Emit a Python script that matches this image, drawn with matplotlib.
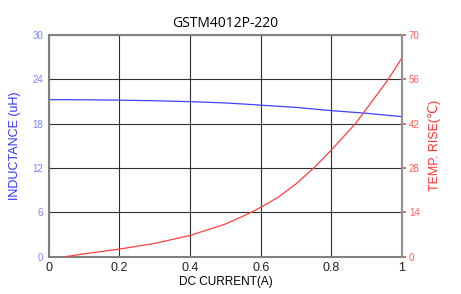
import matplotlib.pyplot as plt

# data
current_l = [0.0, 0.1, 0.2, 0.3, 0.4, 0.5, 0.57, 0.6, 0.7, 0.8, 0.9, 1.0]
inductance = [21.25, 21.23, 21.18, 21.1, 20.98, 20.8, 20.6, 20.5, 20.2, 19.76, 19.4, 18.95]

current_t = [0.047, 0.1, 0.2, 0.3, 0.4, 0.5, 0.573, 0.6, 0.65, 0.7, 0.75,
             0.8, 0.868, 0.9, 0.958, 1.0]
temp_rise = [0.0, 0.9, 2.4, 4.2, 6.7, 10.3, 14.0, 15.6, 18.8, 23.0, 28.0,
             33.7, 42.0, 46.8, 55.5, 62.8]

x_ticks = [0, 0.2, 0.4, 0.6, 0.8, 1]
x_labels = ['0', '0.2', '0.4', '0.6', '0.8', '1']
l_ticks = [0, 6, 12, 18, 24, 30]
t_ticks = [0, 14, 28, 42, 56, 70]

fig = plt.figure(figsize=(4.61, 2.94), dpi=100)
ax = fig.add_axes([0.106, 0.127, 0.766, 0.754])
ax2 = ax.twinx()

ax.plot(current_l, inductance, color='#4040ff', lw=0.9)
ax2.plot(current_t, temp_rise, color='#ff4040', lw=0.9)

ax.set_xlim(0, 1)
ax.set_ylim(0, 30)
ax2.set_ylim(0, 70)
ax.set_xticks(x_ticks, x_labels)
ax.set_yticks(l_ticks)
ax2.set_yticks(t_ticks)
ax.grid(True, color='#303030', lw=0.8)

for s in ['left', 'bottom', 'top']:
    ax.spines[s].set_color('#808080')
    ax.spines[s].set_linewidth(1.5)
for s in ax2.spines:
    ax2.spines[s].set_visible(False)
ax2.spines['right'].set_visible(True)
ax2.spines['right'].set_color('#909090')
ax2.spines['right'].set_linewidth(1.5)
ax.spines['right'].set_visible(False)

ax.tick_params(axis='x', length=0, labelsize=9, pad=4, labelcolor='#202020')
ax.tick_params(axis='y', length=0, labelsize=7, pad=4, labelcolor='#8080ff')
ax2.tick_params(axis='y', length=3, width=1.2, color='#ff4040', labelsize=7,
                pad=2, labelcolor='#ff6060')

for lab in ax.get_xticklabels() + ax.get_yticklabels() + ax2.get_yticklabels():
    lab.set_family('Liberation Sans')

ax.set_xlabel('DC CURRENT(A)', fontsize=8.5, family='Liberation Sans', labelpad=1)
ax.set_ylabel('INDUCTANCE (uH)', fontsize=9, color='#3333ff',
              family='Liberation Sans', labelpad=8)
ax2.set_ylabel('TEMP. RISE(\u2103)', fontsize=9, color='#ff3333',
               family=['Liberation Sans', 'DejaVu Sans'], labelpad=6)
ax.set_title('GSTM4012P-220', fontsize=10, family='Open Sans', pad=6)

fig.savefig('out.png', dpi=100)
